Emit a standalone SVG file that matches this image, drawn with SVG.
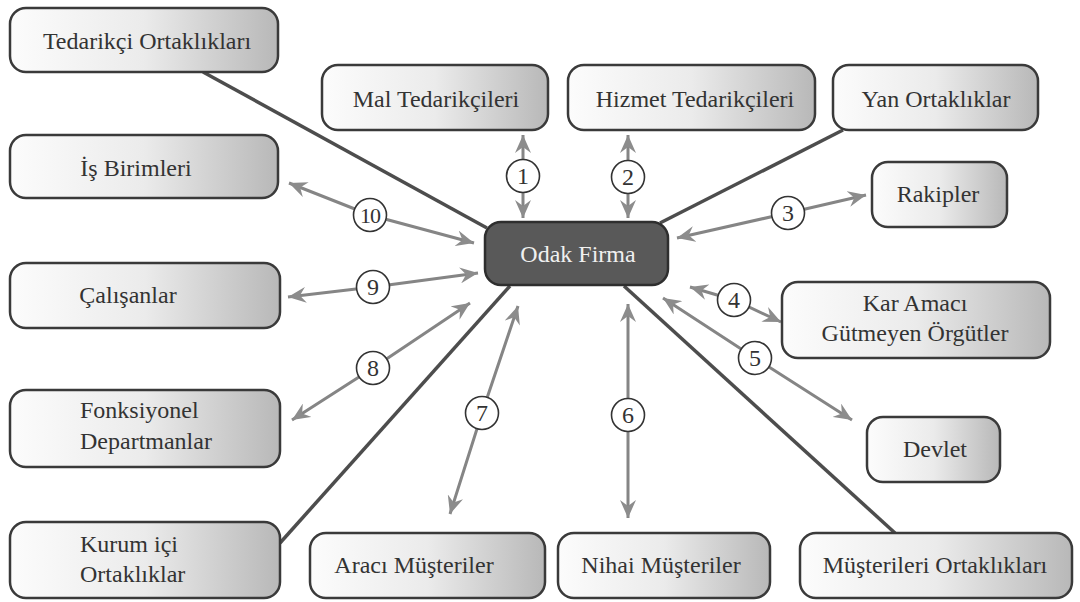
<svg xmlns="http://www.w3.org/2000/svg" width="1080" height="602" viewBox="0 0 1080 602">
<defs>
<linearGradient id="g" x1="0" y1="0" x2="1" y2="0">
<stop offset="0" stop-color="#fcfcfc"/>
<stop offset="0.5" stop-color="#ebebeb"/>
<stop offset="1" stop-color="#b8b8b8"/>
</linearGradient>
<marker id="ah" markerUnits="userSpaceOnUse" markerWidth="20" markerHeight="16" refX="18" refY="8" orient="auto-start-reverse" viewBox="0 0 20 16">
<path d="M0,0 L18,8 L0,16 L6,8 Z" fill="#8c8c8c"/>
</marker>
</defs>
<rect width="1080" height="602" fill="#fff"/>
<g id="connectors">
<g stroke="#4d4d4d" stroke-width="3.5" fill="none">
<line x1="203" y1="72" x2="487" y2="228"/>
<line x1="843" y1="130" x2="660" y2="223"/>
<line x1="280" y1="543" x2="510" y2="286"/>
<line x1="895" y1="533" x2="624" y2="286"/>
</g>
<g stroke="#858585" stroke-width="3" fill="none" marker-start="url(#ah)" marker-end="url(#ah)">
<polyline points="523,135 523,176 523,218"/>
<polyline points="628,135 628,177 628,218"/>
<polyline points="677,238 788,213 866,195"/>
<polyline points="690,287 734,300 781,322"/>
<polyline points="663,298 755,358 852,420"/>
<polyline points="628,304 628,415 628,518"/>
<polyline points="518,306 482,413 450,514"/>
<polyline points="470,303 373,368 292,420"/>
<polyline points="478,273 373,287 288,297"/>
<polyline points="474,243 370,215 289,183"/>
</g>
<g fill="#fff" stroke="#333" stroke-width="1.6">
<circle cx="523" cy="176" r="16.5"/>
<circle cx="628" cy="177" r="16.5"/>
<circle cx="788" cy="213" r="16.5"/>
<circle cx="734" cy="300" r="16.5"/>
<circle cx="755" cy="358" r="16.5"/>
<circle cx="628" cy="415" r="16.5"/>
<circle cx="482" cy="413" r="16.5"/>
<circle cx="373" cy="368" r="16.5"/>
<circle cx="373" cy="287" r="16.5"/>
<circle cx="370" cy="215" r="16.5"/>
</g>
<g fill="#333" text-anchor="middle">
<text style="font-family:'Liberation Serif',serif;font-size:24px" x="523" y="184">1</text>
<text style="font-family:'Liberation Serif',serif;font-size:24px" x="628" y="185">2</text>
<text style="font-family:'Liberation Serif',serif;font-size:24px" x="788" y="221">3</text>
<text style="font-family:'Liberation Serif',serif;font-size:24px" x="734" y="308">4</text>
<text style="font-family:'Liberation Serif',serif;font-size:24px" x="755" y="366">5</text>
<text style="font-family:'Liberation Serif',serif;font-size:24px" x="628" y="423">6</text>
<text style="font-family:'Liberation Serif',serif;font-size:24px" x="482" y="421">7</text>
<text style="font-family:'Liberation Serif',serif;font-size:24px" x="373" y="376">8</text>
<text style="font-family:'Liberation Serif',serif;font-size:24px" x="373" y="295">9</text>
<text style="font-family:'Liberation Serif',serif;font-size:22px;letter-spacing:-1px" x="370" y="223">10</text>
</g>
</g>
<g fill="url(#g)" stroke="#3a3a3a" stroke-width="2.5">
<g id="n_tedarikci_ortakliklari"><rect x="10" y="8" width="268" height="64" rx="16"/><text fill="#333" stroke="none" text-anchor="middle" style="font-family:'Liberation Serif',serif;font-size:24px" x="147" y="49">Tedarikçi Ortaklıkları</text></g>
<g id="n_is_birimleri"><rect x="10" y="135" width="268" height="63" rx="16"/><text fill="#333" stroke="none" text-anchor="middle" style="font-family:'Liberation Serif',serif;font-size:24px" x="136" y="176">İş Birimleri</text></g>
<g id="n_mal"><rect x="322" y="65" width="226" height="65" rx="16"/><text fill="#333" stroke="none" text-anchor="middle" style="font-family:'Liberation Serif',serif;font-size:24px" x="436" y="107">Mal Tedarikçileri</text></g>
<g id="n_hizmet"><rect x="568" y="65" width="247" height="65" rx="16"/><text fill="#333" stroke="none" text-anchor="middle" style="font-family:'Liberation Serif',serif;font-size:24px" x="695" y="107">Hizmet Tedarikçileri</text></g>
<g id="n_yan"><rect x="833" y="65" width="205" height="65" rx="16"/><text fill="#333" stroke="none" text-anchor="middle" style="font-family:'Liberation Serif',serif;font-size:24px" x="936" y="107">Yan Ortaklıklar</text></g>
<g id="n_rakipler"><rect x="872" y="162" width="135" height="65" rx="16"/><text fill="#333" stroke="none" text-anchor="middle" style="font-family:'Liberation Serif',serif;font-size:24px" x="938" y="202">Rakipler</text></g>
<g id="n_kar"><rect x="782" y="282" width="268" height="76" rx="16"/><text fill="#333" stroke="none" text-anchor="middle" style="font-family:'Liberation Serif',serif;font-size:24px" x="915" y="311">Kar Amacı</text><text fill="#333" stroke="none" text-anchor="middle" style="font-family:'Liberation Serif',serif;font-size:24px" x="915" y="341">Gütmeyen Örgütler</text></g>
<g id="n_devlet"><rect x="867" y="417" width="133" height="65" rx="16"/><text fill="#333" stroke="none" text-anchor="middle" style="font-family:'Liberation Serif',serif;font-size:24px" x="935" y="457">Devlet</text></g>
<g id="n_musteri_ort"><rect x="800" y="533" width="272" height="65" rx="16"/><text fill="#333" stroke="none" text-anchor="middle" style="font-family:'Liberation Serif',serif;font-size:24px" x="935" y="573">Müşterileri Ortaklıkları</text></g>
<g id="n_nihai"><rect x="558" y="533" width="212" height="65" rx="16"/><text fill="#333" stroke="none" text-anchor="middle" style="font-family:'Liberation Serif',serif;font-size:24px" x="661" y="573">Nihai Müşteriler</text></g>
<g id="n_araci"><rect x="310" y="533" width="235" height="65" rx="16"/><text fill="#333" stroke="none" text-anchor="middle" style="font-family:'Liberation Serif',serif;font-size:24px" x="414" y="573">Aracı Müşteriler</text></g>
<g id="n_kurum"><rect x="10" y="522" width="270" height="76" rx="16"/><text fill="#333" stroke="none" style="font-family:'Liberation Serif',serif;font-size:24px" x="80" y="552">Kurum içi</text><text fill="#333" stroke="none" style="font-family:'Liberation Serif',serif;font-size:24px" x="80" y="582">Ortaklıklar</text></g>
<g id="n_fonk"><rect x="10" y="390" width="270" height="77" rx="16"/><text fill="#333" stroke="none" style="font-family:'Liberation Serif',serif;font-size:24px" x="80" y="418">Fonksiyonel</text><text fill="#333" stroke="none" style="font-family:'Liberation Serif',serif;font-size:24px" x="80" y="449">Departmanlar</text></g>
<g id="n_calisanlar"><rect x="10" y="263" width="270" height="65" rx="16"/><text fill="#333" stroke="none" text-anchor="middle" style="font-family:'Liberation Serif',serif;font-size:24px" x="128" y="303">Çalışanlar</text></g>
<g id="n_odak"><rect x="485" y="222" width="183" height="63" rx="16" fill="#595959" stroke="#2e2e2e"/><text fill="#f0f0f0" stroke="none" text-anchor="middle" style="font-family:'Liberation Serif',serif;font-size:24px" x="578" y="262">Odak Firma</text></g>
</g>
</svg>
